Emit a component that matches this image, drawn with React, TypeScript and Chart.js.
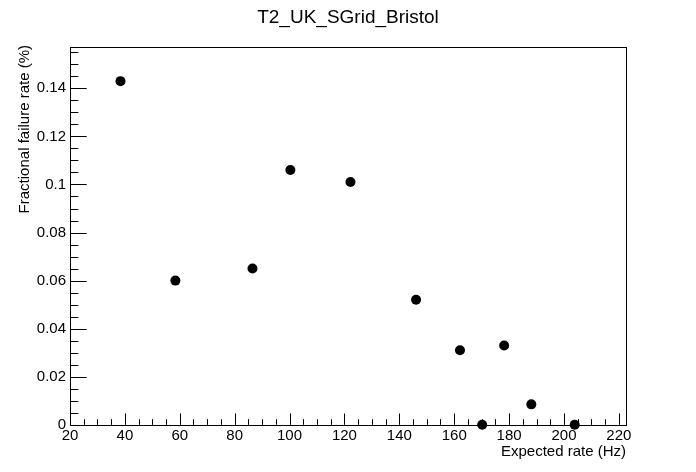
import React, { useEffect, useRef } from "react";
import { Chart, registerables } from "chart.js";

Chart.register(...registerables);

const TITLE = "T2_UK_SGrid_Bristol";
const X_TITLE = "Expected rate (Hz)";
const Y_TITLE = "Fractional failure rate (%)";

const expectedRate = [38.4, 58.4, 86.5, 100.3, 122.2, 146.1, 162.1, 170.2, 178.2, 188.1, 203.9];
const failureRate = [0.143, 0.06, 0.065, 0.106, 0.101, 0.052, 0.031, 0, 0.033, 0.0085, 0];

const X_MIN = 20;
const X_MAX = 222.6;
const X_STEP = 20;
const X_MINOR = 5;
const Y_MIN = 0;
const Y_MAX = 0.1572;
const Y_STEP = 0.02;
const Y_MINOR = 0.005;

const W = 696;
const H = 472;
const FONT = "'Liberation Sans', Arial, Helvetica, sans-serif";

const rootStylePlugin = {
  id: "rootStyle",
  beforeDatasetsDraw(chart: any) {
    const { ctx, chartArea: a, scales } = chart;
    const xs = scales.x;
    const ys = scales.y;
    ctx.save();
    ctx.strokeStyle = "#000";
    ctx.lineWidth = 1;
    // frame
    ctx.strokeRect(Math.round(a.left) + 0.5, Math.round(a.top) + 0.5, Math.round(a.right - a.left), Math.round(a.bottom - a.top));
    const yMajorLen = 0.03 * (a.right - a.left);
    const xMajorLen = 0.03 * (a.bottom - a.top);
    ctx.beginPath();
    // x ticks
    for (let i = 0; X_MIN + i * X_MINOR <= X_MAX + 1e-9; i++) {
      const v = X_MIN + i * X_MINOR;
      const px = Math.round(xs.getPixelForValue(v)) + 0.5;
      const major = i % Math.round(X_STEP / X_MINOR) === 0;
      const len = major ? xMajorLen : xMajorLen / 2;
      ctx.moveTo(px, a.bottom);
      ctx.lineTo(px, a.bottom - len);
    }
    // y ticks
    for (let i = 0; Y_MIN + i * Y_MINOR <= Y_MAX + 1e-9; i++) {
      const v = Y_MIN + i * Y_MINOR;
      const py = Math.round(ys.getPixelForValue(v)) + 0.5;
      const major = i % Math.round(Y_STEP / Y_MINOR) === 0;
      const len = major ? yMajorLen : yMajorLen / 2;
      ctx.moveTo(a.left, py);
      ctx.lineTo(a.left + len, py);
    }
    ctx.stroke();
    ctx.restore();
  },
  afterDraw(chart: any) {
    const { ctx, chartArea: a } = chart;
    ctx.save();
    ctx.fillStyle = "#000";
    // main title
    ctx.font = `19px ${FONT}`;
    ctx.textAlign = "center";
    ctx.textBaseline = "middle";
    ctx.fillText(TITLE, W / 2, 18);
    // x title
    ctx.font = `15px ${FONT}`;
    ctx.textAlign = "right";
    ctx.textBaseline = "middle";
    ctx.fillText(X_TITLE, a.right, 452);
    // y title
    ctx.translate(25, a.top - 2);
    ctx.rotate(-Math.PI / 2);
    ctx.textAlign = "right";
    ctx.textBaseline = "middle";
    ctx.fillText(Y_TITLE, 0, 0);
    ctx.restore();
  },
};

export default function App() {
  const ref = useRef<HTMLCanvasElement | null>(null);

  useEffect(() => {
    if (!ref.current) return;
    const points = expectedRate.map((x, i) => ({ x, y: failureRate[i] }));
    const chart = new Chart(ref.current, {
      type: "scatter",
      data: {
        datasets: [
          {
            data: points,
            backgroundColor: "#000",
            borderColor: "#000",
            pointRadius: 5,
            pointHoverRadius: 5,
            borderWidth: 0,
            clip: false as any,
          },
        ],
      },
      options: {
        animation: false,
        responsive: false,
        maintainAspectRatio: false,
        events: [],
        layout: { padding: { top: 47, right: 70, left: 0, bottom: 0 } },
        plugins: { legend: { display: false }, tooltip: { enabled: false }, title: { display: false } },
        scales: {
          x: {
            type: "linear",
            min: X_MIN,
            max: X_MAX,
            grid: { display: false, drawTicks: false },
            border: { display: false },
            ticks: {
              stepSize: X_STEP,
              includeBounds: false,
              padding: 2,
              color: "#000",
              maxRotation: 0,
              autoSkip: false,
              font: { family: FONT, size: 15 },
              callback: (v: any) => String(Math.round(Number(v))),
            },
            afterFit: (s: any) => {
              s.height = H - 424.8;
            },
          },
          y: {
            type: "linear",
            min: Y_MIN,
            max: Y_MAX,
            grid: { display: false, drawTicks: false },
            border: { display: false },
            ticks: {
              stepSize: Y_STEP,
              includeBounds: false,
              padding: 4,
              color: "#000",
              autoSkip: false,
              font: { family: FONT, size: 15 },
              callback: (v: any) => String(Math.round(Number(v) * 100) / 100),
            },
            afterFit: (s: any) => {
              s.width = 70;
            },
          },
        },
      },
      plugins: [rootStylePlugin],
    });
    return () => chart.destroy();
  }, []);

  return (
    <div style={{ position: "absolute", left: 0, top: 0, width: W, height: H, background: "#fff" }}>
      <canvas ref={ref} width={W} height={H} style={{ width: W, height: H, display: "block" }} />
    </div>
  );
}
